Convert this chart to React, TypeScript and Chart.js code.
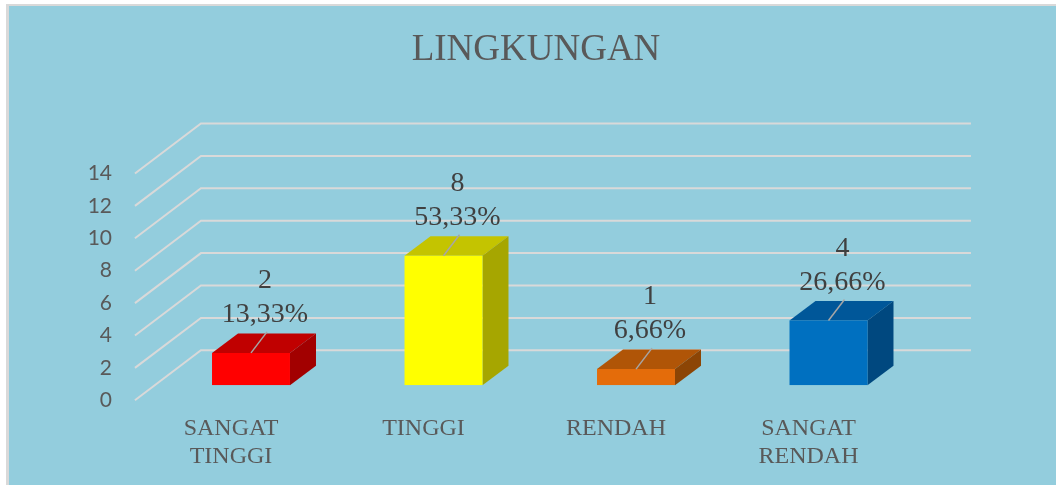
import React, { useEffect, useRef } from 'react';
import { Chart, registerables } from 'chart.js';

Chart.register(...registerables);

// ---- data ----
const TITLE = 'LINGKUNGAN';
const categories: (string | string[])[] = [['SANGAT', 'TINGGI'], 'TINGGI', 'RENDAH', ['SANGAT', 'RENDAH']];
const values = [2, 8, 1, 4];
const percentLabels = ['13,33%', '53,33%', '6,66%', '26,66%'];
const yMin = 0;
const yMax = 14;
const yStep = 2;

// ---- styles ----
const frontColors = ['#FF0000', '#FFFF00', '#E46C0A', '#0070C0'];
const topColors = ['#C00000', '#C4C400', '#B05507', '#005799'];
const sideColors = ['#A20000', '#A6A600', '#8C4505', '#00487F'];

const W = 1056;
const H = 485;
const AREA_LEFT = 154.75;
const AREA_RIGHT = 924.75;
const AREA_TOP = 158.5;
const AREA_BOTTOM = 385.3;

// oblique projection offsets relative to the bar plane
const FRONT_DX = -19.8;
const FRONT_DY = 15;
const BACK_DX = 46.2;
const BACK_DY = -35;
const BAR_DX = 26;
const BAR_DY = -19.5;

const threeD = {
  id: 'threeD',
  beforeDraw(chart: any) {
    const ctx = chart.ctx;
    ctx.save();
    ctx.fillStyle = '#FFFFFF';
    ctx.fillRect(0, 0, W, H);
    ctx.fillStyle = '#D9D9D9';
    ctx.fillRect(6, 4, W - 6, H - 4);
    ctx.fillStyle = '#93CDDD';
    ctx.fillRect(9, 6, W - 9, H - 6);
    ctx.fillStyle = '#595959';
    ctx.font = '37px "Liberation Serif"';
    ctx.textAlign = 'center';
    ctx.textBaseline = 'alphabetic';
    ctx.fillText(TITLE, 536, 59.5);
    ctx.restore();
  },
  beforeDatasetsDraw(chart: any) {
    const ctx = chart.ctx;
    const ys = chart.scales.y;
    const { left, right } = chart.chartArea;
    ctx.save();
    ctx.strokeStyle = '#D9D9D9';
    ctx.lineWidth = 2;
    ys.ticks.forEach((t: any) => {
      const y = ys.getPixelForValue(t.value);
      ctx.beginPath();
      ctx.moveTo(left + FRONT_DX, y + FRONT_DY);
      ctx.lineTo(left + BACK_DX, y + BACK_DY);
      ctx.lineTo(right + BACK_DX, y + BACK_DY);
      ctx.stroke();
    });
    const meta = chart.getDatasetMeta(0);
    meta.data.forEach((bar: any, i: number) => {
      const { x, y, base, width } = bar.getProps(['x', 'y', 'base', 'width'], true);
      const l = x - width / 2;
      const r = x + width / 2;
      ctx.fillStyle = topColors[i];
      ctx.beginPath();
      ctx.moveTo(l, y);
      ctx.lineTo(l + BAR_DX, y + BAR_DY);
      ctx.lineTo(r + BAR_DX, y + BAR_DY);
      ctx.lineTo(r, y);
      ctx.closePath();
      ctx.fill();
      ctx.fillStyle = sideColors[i];
      ctx.beginPath();
      ctx.moveTo(r, y);
      ctx.lineTo(r + BAR_DX, y + BAR_DY);
      ctx.lineTo(r + BAR_DX, base + BAR_DY);
      ctx.lineTo(r, base);
      ctx.closePath();
      ctx.fill();
    });
    ctx.restore();
  },
  afterDatasetsDraw(chart: any) {
    const ctx = chart.ctx;
    const meta = chart.getDatasetMeta(0);
    ctx.save();
    meta.data.forEach((bar: any, i: number) => {
      const { x, y } = bar.getProps(['x', 'y'], true);
      ctx.strokeStyle = '#A6A6A6';
      ctx.lineWidth = 1.5;
      ctx.beginPath();
      ctx.moveTo(x, y);
      ctx.lineTo(x + 16, y - 21);
      ctx.stroke();
      ctx.fillStyle = '#404040';
      ctx.font = '28px "Liberation Serif"';
      ctx.textAlign = 'center';
      ctx.textBaseline = 'alphabetic';
      ctx.fillText(String(values[i]), x + 14, y - 65);
      ctx.fillText(percentLabels[i], x + 14, y - 31);
    });
    ctx.restore();
  },
};

export default function App() {
  const ref = useRef<HTMLCanvasElement | null>(null);
  useEffect(() => {
    if (!ref.current) return;
    const chart = new Chart(ref.current, {
      type: 'bar',
      data: {
        labels: categories,
        datasets: [
          {
            data: values,
            backgroundColor: frontColors,
            borderWidth: 0,
            categoryPercentage: 0.9,
            barPercentage: 0.45,
          },
        ],
      },
      options: {
        responsive: false,
        animation: false,
        layout: { padding: { left: 0, right: W - AREA_RIGHT, top: AREA_TOP, bottom: 0 } },
        plugins: {
          legend: { display: false },
          tooltip: { enabled: false },
          title: { display: false },
        },
        scales: {
          x: {
            type: 'category',
            grid: { display: false, drawTicks: false },
            border: { display: false },
            ticks: {
              labelOffset: -20,
              padding: 29.6,
              font: { family: 'Liberation Serif', size: 24, lineHeight: 1.15 },
              color: '#595959',
              maxRotation: 0,
              autoSkip: false,
            },
            afterFit: (s: any) => {
              s.height = H - AREA_BOTTOM;
            },
          },
          y: {
            min: yMin,
            max: yMax,
            grid: { display: false, drawTicks: false },
            border: { display: false },
            ticks: {
              stepSize: yStep,
              labelOffset: FRONT_DY,
              padding: 42.75,
              font: { family: 'Lato', size: 21 },
              color: '#595959',
            },
            afterFit: (s: any) => {
              s.width = AREA_LEFT;
            },
          },
        },
      },
      plugins: [threeD],
    } as any);
    return () => chart.destroy();
  }, []);
  return (
    <div style={{ position: 'absolute', left: 0, top: 0, width: W, height: H }}>
      <canvas ref={ref} width={W} height={H} style={{ display: 'block' }} />
    </div>
  );
}
